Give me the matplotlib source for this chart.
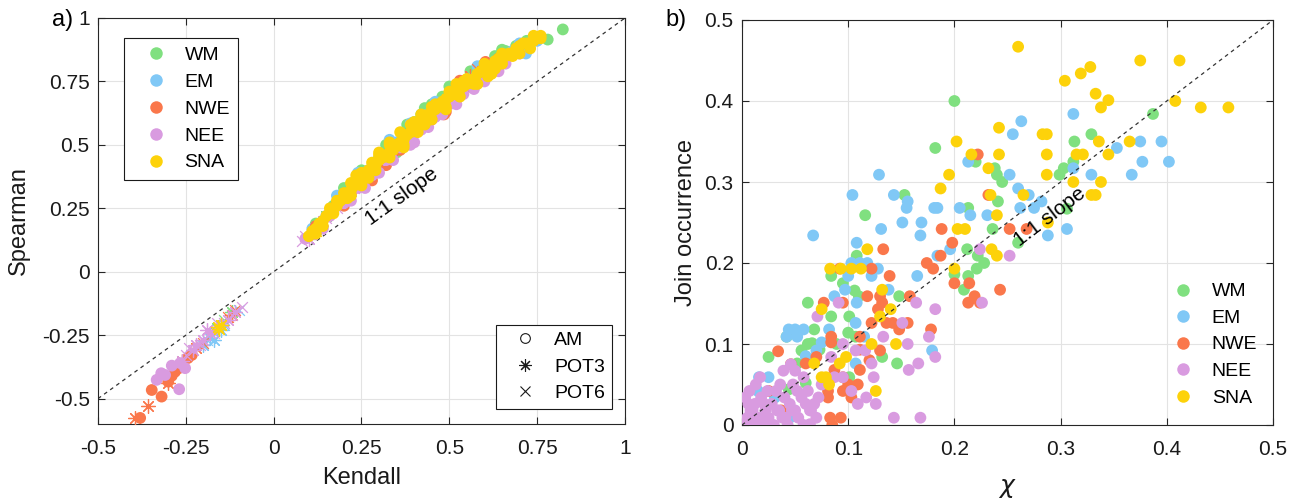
import matplotlib
matplotlib.use("Agg")
import matplotlib.pyplot as plt
from matplotlib.lines import Line2D

plt.rcParams['font.family'] = ['Liberation Sans', 'DejaVu Sans']

regions = ["WM", "EM", "NWE", "NEE", "SNA"]
colors = ["#80e080", "#80c8f6", "#fa774b", "#d99be0", "#fdd20a"]

# ---- panel a: Kendall vs Spearman, (kendall, spearman) pairs ----
wm_am = [(0.12, 0.19), (0.17, 0.26), (0.22, 0.34), (0.26, 0.39), (0.30, 0.45), (0.33, 0.49),
         (0.37, 0.54), (0.40, 0.59), (0.42, 0.62), (0.45, 0.66), (0.48, 0.69), (0.51, 0.72),
         (0.54, 0.75), (0.57, 0.79), (0.60, 0.82), (0.63, 0.85), (0.66, 0.87), (0.69, 0.89),
         (0.72, 0.91), (0.78, 0.915), (0.823, 0.955), (0.47, 0.64), (0.35, 0.47), (0.28, 0.40),
         (0.55, 0.73), (0.20, 0.33), (0.25, 0.40), (0.32, 0.50), (0.38, 0.58), (0.43, 0.645),
         (0.50, 0.73), (0.56, 0.79), (0.65, 0.875)]
em_am = [(0.11, 0.17), (0.15, 0.22), (0.19, 0.28), (0.23, 0.34), (0.27, 0.40), (0.31, 0.45),
         (0.35, 0.51), (0.38, 0.54), (0.437, 0.62), (0.44, 0.60), (0.47, 0.66), (0.50, 0.69),
         (0.53, 0.72), (0.56, 0.76), (0.59, 0.79), (0.62, 0.82), (0.65, 0.85), (0.68, 0.87),
         (0.718, 0.86), (0.75, 0.91), (0.74, 0.92), (0.41, 0.57), (0.29, 0.42), (0.52, 0.70),
         (0.18, 0.30), (0.24, 0.39), (0.33, 0.52), (0.39, 0.585), (0.46, 0.67), (0.58, 0.81),
         (0.70, 0.90)]
nwe_am = [(0.12, 0.18), (0.18, 0.27), (0.22, 0.31), (0.26, 0.36), (0.30, 0.41), (0.34, 0.47),
          (0.36, 0.48), (0.39, 0.55), (0.43, 0.60), (0.485, 0.62), (0.49, 0.63), (0.53, 0.753),
          (0.603, 0.827), (0.56, 0.73), (0.64, 0.84), (0.68, 0.86), (0.20, 0.26), (0.28, 0.36),
          (0.32, 0.42), (0.45, 0.60), (0.58, 0.76),
          (-0.38, -0.576), (-0.347, -0.466), (-0.319, -0.492), (-0.30, -0.433), (-0.281, -0.394),
          (-0.29, -0.41), (-0.244, -0.34), (-0.233, -0.328), (-0.27, -0.38), (-0.26, -0.37)]
nee_am = [(0.09, 0.13), (0.13, 0.18), (0.16, 0.22), (0.20, 0.27), (0.24, 0.33), (0.28, 0.38),
          (0.32, 0.44), (0.36, 0.49), (0.389, 0.50), (0.42, 0.56), (0.46, 0.61), (0.50, 0.66),
          (0.54, 0.70), (0.57, 0.72), (0.62, 0.79), (0.66, 0.82), (0.70, 0.86), (0.14, 0.17),
          (0.22, 0.28), (0.26, 0.33), (0.30, 0.39), (0.34, 0.44), (0.40, 0.51), (0.44, 0.57),
          (0.48, 0.62), (0.52, 0.66), (0.60, 0.75), (0.64, 0.79),
          (-0.333, -0.426), (-0.269, -0.463), (-0.309, -0.407), (-0.252, -0.38), (-0.266, -0.36),
          (-0.29, -0.37), (-0.32, -0.40)]
sna_am = [(0.10, 0.14), (0.11, 0.16), (0.12, 0.17), (0.13, 0.19), (0.14, 0.20), (0.15, 0.22),
          (0.16, 0.23), (0.17, 0.25), (0.18, 0.26), (0.19, 0.28), (0.20, 0.29), (0.21, 0.31),
          (0.22, 0.32), (0.23, 0.34), (0.24, 0.36), (0.25, 0.37), (0.26, 0.38), (0.27, 0.40),
          (0.28, 0.41), (0.29, 0.42), (0.30, 0.44), (0.31, 0.45), (0.32, 0.46), (0.33, 0.47),
          (0.34, 0.48), (0.35, 0.50), (0.36, 0.51), (0.37, 0.52), (0.38, 0.54), (0.39, 0.55),
          (0.40, 0.57), (0.41, 0.58), (0.42, 0.59), (0.43, 0.61), (0.44, 0.62), (0.45, 0.63),
          (0.46, 0.64), (0.47, 0.65), (0.48, 0.67), (0.49, 0.68), (0.50, 0.69), (0.51, 0.70),
          (0.52, 0.71), (0.53, 0.72), (0.54, 0.73), (0.55, 0.74), (0.56, 0.75), (0.57, 0.76),
          (0.58, 0.78), (0.59, 0.79), (0.60, 0.80), (0.62, 0.81), (0.63, 0.83), (0.64, 0.84),
          (0.66, 0.85), (0.67, 0.86), (0.69, 0.88), (0.70, 0.89), (0.72, 0.90), (0.74, 0.91),
          (0.76, 0.92), (0.235, 0.38), (0.33, 0.50), (0.45, 0.65), (0.55, 0.76), (0.58, 0.74),
          (0.62, 0.78), (0.21, 0.29), (0.27, 0.37), (0.37, 0.50), (0.43, 0.58), (0.49, 0.65),
          (0.63, 0.80), (0.68, 0.85), (0.16, 0.25), (0.30, 0.46), (0.40, 0.59), (0.52, 0.74),
          (0.20, 0.31), (0.22, 0.35), (0.25, 0.39), (0.28, 0.43), (0.30, 0.47), (0.33, 0.51),
          (0.36, 0.55), (0.39, 0.58), (0.42, 0.62), (0.46, 0.66), (0.50, 0.71), (0.54, 0.75),
          (0.60, 0.82), (0.65, 0.86), (0.71, 0.90), (0.74, 0.93), (0.76, 0.93), (0.22, 0.30),
          (0.25, 0.34), (0.29, 0.40), (0.33, 0.45), (0.37, 0.49), (0.41, 0.55), (0.45, 0.60),
          (0.49, 0.64), (0.53, 0.69), (0.57, 0.74), (0.61, 0.77), (0.65, 0.82), (0.70, 0.86),
          (0.73, 0.88), (0.12, 0.15), (0.14, 0.18), (0.17, 0.23), (0.18, 0.28)]

wm_pot3 = [(0.15, 0.22), (0.26, 0.37), (-0.16, -0.22), (-0.12, -0.16)]
wm_pot6 = [(0.20, 0.29), (-0.14, -0.19)]
em_pot3 = [(0.17, 0.25), (0.22, 0.32), (-0.20, -0.29), (-0.18, -0.26), (-0.17, -0.27),
           (-0.15, -0.23)]
em_pot6 = [(0.12, 0.17), (0.25, 0.35), (-0.19, -0.27), (-0.14, -0.21), (-0.10, -0.15)]
nwe_pot3 = [(0.21, 0.30), (0.27, 0.38), (0.33, 0.48), (0.56, 0.77), (0.60, 0.81),
            (-0.395, -0.575), (-0.357, -0.531), (-0.30, -0.44), (-0.22, -0.30), (-0.12, -0.17),
            (-0.26, -0.35)]
nwe_pot6 = [(0.31, 0.46), (0.58, 0.80), (-0.13, -0.18), (-0.11, -0.15), (-0.20, -0.28)]
nee_pot3 = [(0.10, 0.13), (0.14, 0.20), (0.19, 0.27), (0.30, 0.44), (-0.26, -0.35),
            (-0.23, -0.31), (-0.20, -0.27), (-0.18, -0.24), (-0.15, -0.21), (-0.13, -0.19),
            (-0.11, -0.16), (-0.19, -0.23), (-0.22, -0.29)]
nee_pot6 = [(0.08, 0.12), (0.09, 0.14), (0.11, 0.15), (0.13, 0.17), (0.15, 0.21), (0.18, 0.25),
            (0.20, 0.28), (0.23, 0.33), (-0.25, -0.33), (-0.21, -0.29), (-0.17, -0.24),
            (-0.14, -0.20), (-0.12, -0.17), (-0.09, -0.14), (-0.16, -0.20), (-0.24, -0.30)]
sna_pot3 = [(0.35, 0.50), (0.50, 0.70), (-0.158, -0.216), (-0.15, -0.21), (-0.155, -0.225)]
sna_pot6 = [(0.12, 0.16), (0.40, 0.56)]

am_sets = [wm_am, em_am, nwe_am, nee_am, sna_am]
pot3_sets = [wm_pot3, em_pot3, nwe_pot3, nee_pot3, sna_pot3]
pot6_sets = [wm_pot6, em_pot6, nwe_pot6, nee_pot6, sna_pot6]

# ---- panel b: chi vs joint occurrence, (chi, join) pairs ----
wm_chi = [(0.200, 0.400), (0.387, 0.384), (0.182, 0.342), (0.329, 0.359), (0.313, 0.350),
          (0.220, 0.325), (0.303, 0.317), (0.299, 0.309), (0.312, 0.325), (0.238, 0.317),
          (0.240, 0.309), (0.245, 0.300), (0.153, 0.284), (0.213, 0.268), (0.241, 0.276),
          (0.306, 0.267), (0.116, 0.259), (0.236, 0.242), (0.260, 0.225), (0.212, 0.217),
          (0.222, 0.209), (0.228, 0.200), (0.221, 0.193), (0.213, 0.184), (0.209, 0.167),
          (0.200, 0.186), (0.108, 0.209), (0.084, 0.184), (0.095, 0.175), (0.106, 0.166),
          (0.110, 0.159), (0.148, 0.159), (0.062, 0.151), (0.084, 0.134), (0.101, 0.134),
          (0.068, 0.118), (0.100, 0.114), (0.042, 0.109), (0.062, 0.100), (0.107, 0.109),
          (0.025, 0.084), (0.146, 0.076), (0.132, 0.084), (0.073, 0.093), (0.089, 0.100),
          (0.052, 0.076), (0.060, 0.052), (0.044, 0.044), (0.101, 0.059), (0.066, 0.101),
          (0.056, 0.092)]
em_chi = [(0.263, 0.375), (0.312, 0.384), (0.255, 0.359), (0.353, 0.342), (0.375, 0.350),
          (0.395, 0.350), (0.213, 0.325), (0.377, 0.325), (0.402, 0.325), (0.129, 0.309),
          (0.252, 0.309), (0.329, 0.309), (0.367, 0.309), (0.312, 0.317), (0.104, 0.284),
          (0.143, 0.284), (0.156, 0.276), (0.155, 0.268), (0.260, 0.292), (0.270, 0.284),
          (0.184, 0.268), (0.181, 0.268), (0.205, 0.268), (0.215, 0.259), (0.231, 0.259),
          (0.262, 0.268), (0.275, 0.268), (0.282, 0.276), (0.151, 0.250), (0.169, 0.250),
          (0.131, 0.242), (0.168, 0.234), (0.288, 0.234), (0.306, 0.242), (0.067, 0.234),
          (0.108, 0.225), (0.196, 0.217), (0.184, 0.209), (0.103, 0.200), (0.111, 0.200),
          (0.118, 0.200), (0.128, 0.193), (0.122, 0.184), (0.165, 0.184), (0.100, 0.184),
          (0.097, 0.167), (0.087, 0.159), (0.108, 0.151), (0.138, 0.167), (0.107, 0.126),
          (0.044, 0.118), (0.050, 0.118), (0.058, 0.118), (0.042, 0.109), (0.052, 0.109),
          (0.082, 0.118), (0.115, 0.109), (0.179, 0.092), (0.070, 0.092), (0.075, 0.102),
          (0.107, 0.076), (0.016, 0.059), (0.025, 0.059), (0.015, 0.042), (0.031, 0.034),
          (0.045, 0.009), (0.060, 0.085)]
nwe_chi = [(0.222, 0.334), (0.232, 0.284), (0.252, 0.242), (0.268, 0.242), (0.188, 0.242),
           (0.133, 0.217), (0.198, 0.225), (0.187, 0.209), (0.174, 0.200), (0.180, 0.193),
           (0.139, 0.184), (0.122, 0.193), (0.092, 0.193), (0.200, 0.175), (0.214, 0.175),
           (0.243, 0.167), (0.213, 0.151), (0.219, 0.159), (0.224, 0.151), (0.158, 0.159),
           (0.118, 0.159), (0.130, 0.159), (0.132, 0.151), (0.128, 0.143), (0.095, 0.151),
           (0.077, 0.151), (0.122, 0.126), (0.136, 0.126), (0.142, 0.126), (0.148, 0.118),
           (0.156, 0.126), (0.178, 0.118), (0.084, 0.109), (0.084, 0.102), (0.111, 0.093),
           (0.070, 0.084), (0.130, 0.092), (0.111, 0.109), (0.111, 0.068), (0.087, 0.068),
           (0.095, 0.059), (0.081, 0.042), (0.081, 0.034), (0.095, 0.042), (0.109, 0.050),
           (0.103, 0.034), (0.083, 0.009), (0.093, 0.009), (0.085, 0.000), (0.037, 0.018),
           (0.025, 0.042), (0.046, 0.075), (0.060, 0.076), (0.034, 0.091), (0.120, 0.080),
           (0.100, 0.050)]
nee_chi = [(0.224, 0.217), (0.252, 0.209), (0.226, 0.151), (0.164, 0.151), (0.182, 0.143),
           (0.151, 0.126), (0.071, 0.134), (0.091, 0.151), (0.176, 0.109), (0.182, 0.084),
           (0.156, 0.100), (0.133, 0.109), (0.166, 0.076), (0.157, 0.068), (0.143, 0.009),
           (0.168, 0.009), (0.117, 0.034), (0.126, 0.026), (0.124, 0.059), (0.109, 0.026),
           (0.103, 0.042), (0.116, 0.092), (0.122, 0.076), (0.107, 0.092), (0.095, 0.100),
           (0.084, 0.084), (0.087, 0.059), (0.095, 0.059), (0.075, 0.050), (0.072, 0.034),
           (0.064, 0.018), (0.064, 0.001),
           (0.002, 0.000), (0.005, 0.009), (0.008, 0.018), (0.010, 0.000), (0.012, 0.026),
           (0.015, 0.009), (0.018, 0.034), (0.020, 0.000), (0.022, 0.018), (0.025, 0.009),
           (0.028, 0.026), (0.030, 0.000), (0.032, 0.042), (0.035, 0.018), (0.038, 0.009),
           (0.040, 0.034), (0.043, 0.000), (0.045, 0.026), (0.048, 0.050), (0.050, 0.018),
           (0.053, 0.009), (0.056, 0.034), (0.058, 0.000), (0.060, 0.026), (0.062, 0.042),
           (0.065, 0.018), (0.003, 0.034), (0.007, 0.042), (0.013, 0.050), (0.017, 0.059),
           (0.024, 0.042), (0.010, 0.018), (0.027, 0.000), (0.033, 0.018), (0.041, 0.009),
           (0.047, 0.018), (0.052, 0.042), (0.068, 0.026), (0.070, 0.009), (0.036, 0.050),
           (0.021, 0.026), (0.006, 0.026), (0.014, 0.009), (0.050, 0.067), (0.046, 0.075),
           (0.058, 0.059), (0.039, 0.067)]
sna_chi = [(0.260, 0.467), (0.375, 0.450), (0.412, 0.450), (0.304, 0.425), (0.319, 0.434),
           (0.328, 0.442), (0.333, 0.409), (0.338, 0.392), (0.345, 0.401), (0.408, 0.400),
           (0.432, 0.392), (0.458, 0.392), (0.242, 0.367), (0.202, 0.350), (0.283, 0.359),
           (0.287, 0.359), (0.336, 0.350), (0.365, 0.350), (0.216, 0.334), (0.242, 0.334),
           (0.287, 0.334), (0.315, 0.334), (0.321, 0.334), (0.345, 0.334), (0.232, 0.317),
           (0.195, 0.309), (0.287, 0.309), (0.312, 0.300), (0.338, 0.300), (0.187, 0.292),
           (0.265, 0.284), (0.234, 0.284), (0.329, 0.284), (0.333, 0.284), (0.240, 0.259),
           (0.288, 0.250), (0.203, 0.242), (0.210, 0.242), (0.235, 0.217), (0.240, 0.209),
           (0.200, 0.193), (0.118, 0.217), (0.083, 0.193), (0.093, 0.193), (0.103, 0.193),
           (0.112, 0.193), (0.132, 0.167), (0.140, 0.143), (0.130, 0.134), (0.075, 0.143),
           (0.145, 0.100), (0.122, 0.100), (0.098, 0.084), (0.068, 0.076), (0.092, 0.076),
           (0.075, 0.059), (0.079, 0.059), (0.082, 0.050), (0.126, 0.042)]
chi_sets = [wm_chi, em_chi, nwe_chi, nee_chi, sna_chi]

ticks_a = [-0.5, -0.25, 0, 0.25, 0.5, 0.75, 1]
ticklabels_a = ["-0.5", "-0.25", "0", "0.25", "0.5", "0.75", "1"]
ticks_b = [0, 0.1, 0.2, 0.3, 0.4, 0.5]
ticklabels_b = ["0", "0.1", "0.2", "0.3", "0.4", "0.5"]

AXC = "#262626"
GRID = "#e3e3e3"
MS = 72


def style_axes(ax):
    ax.grid(True, color=GRID, linewidth=0.8)
    ax.set_axisbelow(True)
    for sp in ax.spines.values():
        sp.set_color(AXC)
        sp.set_linewidth(0.8)
    ax.tick_params(direction="in", length=5, width=0.8, top=True, right=True,
                   colors=AXC, labelcolor="#1a1a1a", labelsize=15)
    ax.tick_params(axis="x", pad=11)
    ax.tick_params(axis="y", pad=6)


def xy(pairs):
    return [p[0] for p in pairs], [p[1] for p in pairs]


fig = plt.figure(figsize=(13.01, 5.0), dpi=100)

# ---------------- panel a ----------------
ax1 = fig.add_axes([98 / 1301, 76 / 500, 527 / 1301, 406 / 500])
style_axes(ax1)
ax1.plot([-0.5, 1], [-0.5, 1], linestyle=(0, (3, 3)), color="#333333", linewidth=0.9, zorder=2)
# each region in turn: annual maxima, then the two peaks-over-threshold sets
z = 3.0
for col, am, p3, p6 in zip(colors, am_sets, pot3_sets, pot6_sets):
    x, y = xy(am)
    ax1.scatter(x, y, s=MS, color=col, edgecolors="none", zorder=z)
    x, y = xy(p3)
    ax1.scatter(x, y, s=100, marker=(8, 2, 0), color=col, linewidths=0.9, zorder=z + 0.1)
    x, y = xy(p6)
    ax1.scatter(x, y, s=60, marker="x", color=col, linewidths=0.9, zorder=z + 0.2)
    z += 0.5
ax1.set_xlim(-0.5, 1)
ax1.set_ylim(-0.6, 1)
ax1.set_xticks(ticks_a)
ax1.set_xticklabels(ticklabels_a)
ax1.set_yticks(ticks_a)
ax1.set_yticklabels(ticklabels_a)
ax1.set_xlabel("Kendall", fontsize=17, color="#1a1a1a")
ax1.set_ylabel("Spearman", fontsize=17, color="#1a1a1a")
ax1.xaxis.set_label_coords(0.5, -0.133)
ax1.xaxis.label.set_verticalalignment("center")
ax1.yaxis.set_label_coords(-0.150, 0.5)
ax1.yaxis.label.set_verticalalignment("center")
ax1.text(0.365, 0.295, "1:1 slope", rotation=35.8, rotation_mode="anchor",
         ha="center", va="center", fontsize=15, zorder=8)

reg_handles = [Line2D([], [], linestyle="none", marker="o", markersize=9,
                      markerfacecolor=c, markeredgecolor="none") for c in colors]
leg1 = ax1.legend(reg_handles, regions, loc="upper left", bbox_to_anchor=(0.049, 0.951),
                  borderaxespad=0, fontsize=14, frameon=True, fancybox=False,
                  edgecolor="#1a1a1a", framealpha=1, handlelength=2.5, handletextpad=0.2,
                  labelspacing=0.48, borderpad=0.42)
leg1.get_frame().set_linewidth(0.8)
leg1.set_zorder(10)
ax1.add_artist(leg1)

typ_handles = [Line2D([], [], linestyle="none", marker="o", markersize=7,
                      markerfacecolor="none", markeredgecolor="#1a1a1a", markeredgewidth=0.8),
               Line2D([], [], linestyle="none", marker=(8, 2, 0), markersize=9,
                      color="#1a1a1a", markeredgewidth=0.8),
               Line2D([], [], linestyle="none", marker="x", markersize=7,
                      color="#1a1a1a", markeredgewidth=0.8)]
leg2 = ax1.legend(typ_handles, ["AM", "POT3", "POT6"], loc="lower right",
                  bbox_to_anchor=(0.975, 0.037), borderaxespad=0, fontsize=14, frameon=True,
                  fancybox=False, edgecolor="#1a1a1a", framealpha=1, handlelength=2.27,
                  handletextpad=0.36, labelspacing=0.46, borderpad=0.35)
leg2.get_frame().set_linewidth(0.8)
leg2.set_zorder(10)

# ---------------- panel b ----------------
ax2 = fig.add_axes([742 / 1301, 75 / 500, 531 / 1301, 405 / 500])
style_axes(ax2)
ax2.plot([0, 0.5], [0, 0.5], linestyle=(0, (3, 3)), color="#333333", linewidth=0.9, zorder=4)
for col, pts in zip(colors, chi_sets):
    x, y = xy(pts)
    ax2.scatter(x, y, s=MS, color=col, edgecolors="none", zorder=3)
ax2.set_xlim(0, 0.5)
ax2.set_ylim(0, 0.5)
ax2.set_xticks(ticks_b)
ax2.set_xticklabels(ticklabels_b)
ax2.set_yticks(ticks_b)
ax2.set_yticklabels(ticklabels_b)
ax2.set_xlabel(r"$\chi$", fontsize=18, color="#1a1a1a")
ax2.set_ylabel("Join occurrence", fontsize=17, color="#1a1a1a")
ax2.xaxis.set_label_coords(0.5, -0.156)
ax2.xaxis.label.set_verticalalignment("center")
ax2.yaxis.set_label_coords(-0.105, 0.5)
ax2.yaxis.label.set_verticalalignment("center")
ax2.text(0.29, 0.257, "1:1 slope", rotation=37.3, rotation_mode="anchor",
         ha="center", va="center", fontsize=15, zorder=5)
ax2.legend(reg_handles, regions, loc="upper left", bbox_to_anchor=(0.772, 0.368),
           borderaxespad=0, fontsize=14, frameon=False, handlelength=2.5,
           handletextpad=0.23, labelspacing=0.46, borderpad=0.35)

fig.text(63 / 1301, 1 - 20 / 500, "a)", fontsize=17, ha="center", va="center")
fig.text(676 / 1301, 1 - 20 / 500, "b)", fontsize=17, ha="center", va="center")

fig.savefig("out.png", dpi=100, facecolor="white")
